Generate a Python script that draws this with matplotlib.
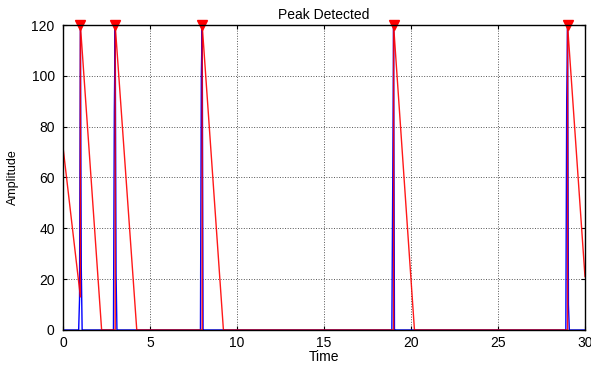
import numpy as np
import matplotlib.pyplot as plt

plt.rcParams['font.family'] = ['Liberation Sans', 'DejaVu Sans']

# blue signal: spikes at the detected peaks, zero elsewhere
peak_t = [1, 3, 8, 19, 29]
peak_amp = [120, 120, 120, 120, 120]
pre_amp = [12, 86, 100, 57, 90]
post_amp = [25, 22, 0, 0, 10]

# red decaying threshold (corner points)
thr_t = [0, 1, 1, 2.22, 3, 3, 4.24, 8, 8, 9.22, 19, 19, 20.2, 29, 29, 30]
thr_y = [72, 13, 120, 0, 0, 120, 0, 0, 120, 0, 0, 120, 0, 0, 120, 21]

dt = 0.05
sig_t = [0.0]
sig_y = [0.0]
for p, a, b, c in zip(peak_t, pre_amp, peak_amp, post_amp):
    sig_t += [p - 2 * dt, p - dt, p, p + dt, p + 2 * dt]
    sig_y += [0, a, b, c, 0]
sig_t.append(30.0)
sig_y.append(0.0)

fig = plt.figure(figsize=(5.91, 3.65), dpi=100)
ax = fig.add_axes([0.1066, 0.0959, 0.8832, 0.8356])

ax.plot(sig_t, sig_y, color='blue', lw=1.0)
ax.plot(thr_t, thr_y, color='red', lw=1.0, alpha=0.9)
ax.plot(peak_t, peak_amp, linestyle='none', marker='v', color='red',
        markersize=7, clip_on=False)

ax.set_xlim(0, 30)
ax.set_ylim(0, 120)
ax.set_xticks(np.arange(0, 31, 5))
ax.set_yticks(np.arange(0, 121, 20))
ax.grid(True, color='#555555', linestyle=':', linewidth=0.7)
ax.tick_params(direction='in', top=True, right=True, labelsize=10,
               length=3, pad=6)
ax.tick_params(axis='x', pad=4)
for s in ax.spines.values():
    s.set_linewidth(1.0)

ax.set_title('Peak Detected', fontsize=10, pad=4)
ax.set_xlabel('Time', fontsize=10, labelpad=0)
ax.set_ylabel('Amplitude', fontsize=9, labelpad=9)

fig.savefig('out.png', dpi=100)
